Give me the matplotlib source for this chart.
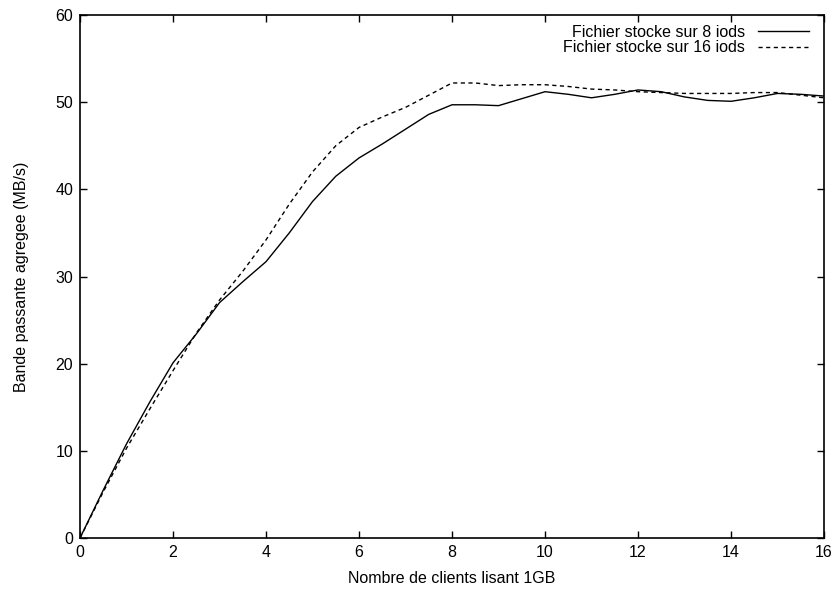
import matplotlib.pyplot as plt

# donnees
clients = [0, 0.5, 1, 1.5, 2, 2.5, 3, 3.5, 4, 4.5, 5, 5.5, 6, 6.5, 7, 7.5, 8,
           8.5, 9, 9.5, 10, 10.5, 11, 11.5, 12, 12.5, 13, 13.5, 14, 14.5, 15, 15.5, 16]
bw_8iods = [0, 5.5, 10.8, 15.6, 20.1, 23.4, 27.0, 29.4, 31.7, 35.0, 38.6, 41.5, 43.6,
            45.2, 46.9, 48.6, 49.7, 49.7, 49.6, 50.4, 51.2, 50.9, 50.5, 50.9, 51.4,
            51.2, 50.6, 50.2, 50.1, 50.5, 51.0, 50.9, 50.7]
bw_16iods = [0, 5.3, 10.3, 14.8, 19.2, 23.5, 27.3, 30.6, 34.2, 38.3, 42.0, 45.0, 47.1,
             48.3, 49.4, 50.8, 52.2, 52.2, 51.9, 52.0, 52.0, 51.8, 51.5, 51.4, 51.2,
             51.1, 51.0, 51.0, 51.0, 51.1, 51.1, 50.8, 50.5]

plt.rcParams['font.family'] = ['Liberation Sans', 'DejaVu Sans']
plt.rcParams['font.size'] = 11.5

fig = plt.figure(figsize=(8.37, 5.9), dpi=100)
ax = fig.add_axes([0.0956, 0.0881, 0.8889, 0.8865])

ax.plot(clients, bw_8iods, color='black', lw=1, label='Fichier stocke sur 8 iods')
ax.plot(clients, bw_16iods, color='black', lw=1, dashes=(3, 2.5),
        label='Fichier stocke sur 16 iods')

ax.set_xlim(0, 16)
ax.set_ylim(0, 60)
ax.set_xticks(range(0, 17, 2))
ax.set_yticks(range(0, 61, 10))
ax.tick_params(direction='in', top=True, right=True, length=5, width=1, pad=5)
for s in ax.spines.values():
    s.set_linewidth(1.2)

ax.set_xlabel('Nombre de clients lisant 1GB', labelpad=8)
ax.set_ylabel('Bande passante agregee (MB/s)', labelpad=19)

ax.legend(loc='upper right', bbox_to_anchor=(0.993, 1.0), frameon=False,
          markerfirst=False, handlelength=3.2, borderaxespad=0.2,
          labelspacing=0.05, handletextpad=0.8)

fig.savefig('out.png', dpi=100)
